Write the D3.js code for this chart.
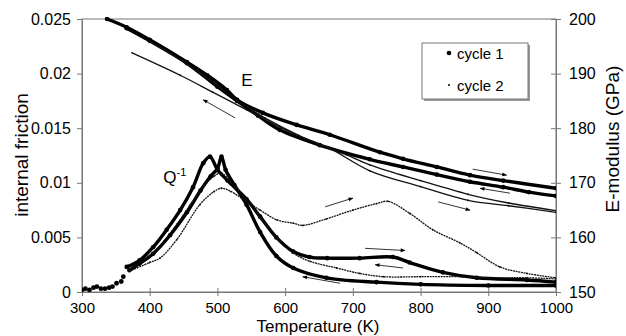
<!DOCTYPE html>
<html>
<head>
<meta charset="utf-8">
<script src="https://cdn.jsdelivr.net/npm/d3@7"></script>
<style>
  body { margin: 0; background: #fff; }
  svg { font-family: "Liberation Sans", Arial, sans-serif; }
</style>
</head>
<body>
<div class="main"></div>
<script>
let xTicks = [300, 400, 500, 600, 700, 800, 900, 1000];
let qTicks = [0, 0.005, 0.01, 0.015, 0.02, 0.025];
let eTicks = [150, 160, 170, 180, 190, 200];
let seriesNames = ['cycle 1', 'cycle 2'];

// [temperature K, internal friction]
let c1StartQ = [[300, 0.0002], [305, 0.0003], [311, 0.0002], [317, 0.0004], [322, 0.0005], [328, 0.0003],
  [334, 0.0003], [340, 0.0004], [345, 0.0005], [351, 0.0008], [358, 0.00096], [361, 0.0014]];
let c1HeatQ = [[366, 0.0023], [385, 0.0029], [405, 0.0041], [425, 0.0057], [445, 0.0075], [464, 0.0096],
  [479, 0.0118], [489, 0.0124], [500, 0.0112], [515, 0.0102], [543, 0.0085], [563, 0.0069],
  [587, 0.0050], [612, 0.0037], [636, 0.0032], [662, 0.0031], [710, 0.0031], [759, 0.0032],
  [784, 0.0027], [833, 0.0018], [883, 0.0013], [957, 0.0011], [1000, 0.0009]];
let c1CoolQ = [[1000, 0.0006], [900, 0.0006], [800, 0.0007], [735, 0.0009], [661, 0.0013], [612, 0.0022],
  [587, 0.0033], [563, 0.0055], [543, 0.0080], [525, 0.0098], [512, 0.0112], [506, 0.0124],
  [500, 0.0113], [490, 0.0106], [475, 0.0093], [455, 0.0073], [430, 0.0052], [405, 0.0035],
  [385, 0.0026], [370, 0.0020]];
let c2HeatQ = [[370, 0.0019], [400, 0.0027], [415, 0.0031], [440, 0.0048], [474, 0.0080], [495, 0.0092],
  [506, 0.0095], [520, 0.0092], [545, 0.0082], [563, 0.0075], [588, 0.0066], [612, 0.0063],
  [626, 0.0061], [661, 0.0067], [700, 0.0075], [735, 0.0081], [752, 0.0083], [784, 0.0072],
  [818, 0.0057], [858, 0.0045], [883, 0.0036], [917, 0.0023], [957, 0.0017], [1000, 0.0013]];
let c2CoolQ = [[1000, 0.0012], [957, 0.0013], [900, 0.0013], [860, 0.0014], [800, 0.0014], [745, 0.0014],
  [710, 0.0017], [676, 0.0022], [637, 0.0028], [611, 0.0036], [587, 0.0050], [563, 0.0068],
  [543, 0.0084], [520, 0.0100], [506, 0.0109], [495, 0.0106], [480, 0.0097], [460, 0.0080],
  [440, 0.0062], [415, 0.0042], [395, 0.0031], [370, 0.0021]];

// [temperature K, E-modulus GPa]
let c1HeatE = [[337, 200], [366, 198.5], [400, 196.2], [455, 192.1], [485, 189.7], [514, 187.0],
  [529, 185.2], [567, 182.8], [617, 180.6], [666, 178.8], [740, 175.6], [774, 174.4],
  [824, 172.9], [873, 171.4], [922, 170.4], [1000, 169.0]];
let c1CoolE = [[1000, 167.6], [960, 168.3], [922, 169.2], [873, 170.2], [824, 171.5], [774, 172.9],
  [725, 174.3], [651, 176.9], [592, 179.7], [560, 182.3], [529, 185.0], [500, 187.6],
  [455, 191.9], [400, 196.0], [366, 198.3]];
let c2HeatE = [[400, 195.9], [455, 191.8], [500, 187.8], [530, 185.0], [570, 181.9], [620, 178.7],
  [666, 176.3], [725, 172.2], [800, 169.3], [870, 166.8], [930, 165.8], [1000, 164.6]];
let c2CoolE = [[1000, 164.9], [930, 166.3], [870, 167.9], [800, 170.4], [725, 173.3], [691, 175.1],
  [641, 177.5], [592, 180.2], [544, 183.3], [493, 186.6], [445, 189.7], [374, 193.8]];

// direction arrows [T from, value from, T to, value to]
let eArrows = [[526, 181.9, 479, 185.2], [877, 172.5, 927, 171.4], [932, 168.1, 888, 169.0], [826, 166.5, 873, 165.0]];
let qArrows = [[659, 0.0078, 700, 0.0086], [718, 0.0040, 777, 0.0038], [774, 0.0022, 733, 0.0025], [681, 0.0008, 626, 0.0014]];

let opts = { width: 626, height: 336, left: 82, right: 556, top: 19, bottom: 292 };

let svg = d3.select('.main').append('svg')
  .attr('width', opts.width)
  .attr('height', opts.height);

let x = d3.scaleLinear().domain([300, 1000]).range([opts.left, opts.right]);
let yQ = d3.scaleLinear().domain([0, 0.025]).range([opts.bottom, opts.top]);
let yE = d3.scaleLinear().domain([150, 200]).range([opts.bottom, opts.top]);

let defs = svg.append('defs');
defs.append('clipPath').attr('id', 'plot')
  .append('rect').attr('x', opts.left).attr('y', opts.top - 2)
  .attr('width', opts.right - opts.left).attr('height', opts.bottom - opts.top + 2);

defs.append('marker')
  .attr('id', 'head').attr('viewBox', '0 0 10 10').attr('refX', 9).attr('refY', 5)
  .attr('markerWidth', 7).attr('markerHeight', 6).attr('orient', 'auto')
  .append('path').attr('d', 'M0,1 L10,5 L0,9 Z').attr('fill', '#000');

// frame
svg.append('rect').attr('x', opts.left).attr('y', opts.top)
  .attr('width', opts.right - opts.left).attr('height', opts.bottom - opts.top)
  .attr('fill', 'none').attr('stroke', '#777').attr('stroke-width', 1);

let styleAxis = g => {
  g.select('.domain').attr('stroke', '#777');
  g.selectAll('.tick line').attr('stroke', '#777');
  g.selectAll('.tick text').attr('fill', '#000').style('font-size', '16px')
    .style('font-family', '"Liberation Sans", Arial, sans-serif');
};

svg.append('g').attr('transform', `translate(0,${opts.bottom})`)
  .call(d3.axisBottom(x).tickValues(xTicks).tickSize(4).tickPadding(6).tickFormat(d3.format('d')))
  .call(styleAxis)
  .call(g => g.selectAll('.tick text').style('font-size', '15px'))
  .call(g => g.selectAll('.tick line').attr('y1', -4).attr('y2', 4));

svg.append('g').attr('transform', `translate(${opts.left},0)`)
  .call(d3.axisLeft(yQ).tickValues(qTicks).tickSize(5).tickPadding(6).tickFormat(d => d === 0 ? '0' : String(+d.toFixed(3))))
  .call(styleAxis);

svg.append('g').attr('transform', `translate(${opts.right},0)`)
  .call(d3.axisRight(yE).tickValues(eTicks).tickSize(5).tickPadding(8).tickFormat(d3.format('d')))
  .call(styleAxis)
  .call(g => g.selectAll('.tick line').attr('x1', -5).attr('x2', 5));

// axis titles
svg.append('text').attr('x', 318).attr('y', 331.5).attr('text-anchor', 'middle')
  .style('font-size', '17px').text('Temperature (K)');
svg.append('text').attr('transform', 'translate(28,155) rotate(-90)').attr('text-anchor', 'middle')
  .style('font-size', '19px').text('internal friction');
svg.append('text').attr('transform', 'translate(619,139) rotate(-90)').attr('text-anchor', 'middle')
  .style('font-size', '19px').text('E-modulus (GPa)');

let plot = svg.append('g').attr('clip-path', 'url(#plot)');

let lineQ = d3.line().x(d => x(d[0])).y(d => yQ(d[1])).curve(d3.curveCatmullRom.alpha(0.5));
let lineE = d3.line().x(d => x(d[0])).y(d => yE(d[1])).curve(d3.curveCatmullRom.alpha(0.5));

let drawSeries = (data, line, y, cycle, dotted) => {
  let thick = cycle === 1;
  plot.append('path').datum(data).attr('d', line)
    .attr('fill', 'none').attr('stroke', thick ? '#000' : '#111')
    .attr('stroke-width', thick ? 3.4 : 1.3)
    .attr('stroke-dasharray', dotted ? '2,0.7' : null);
  plot.selectAll(null).data(data).enter().append('circle')
    .attr('cx', d => x(d[0])).attr('cy', d => y(d[1]))
    .attr('r', thick ? 2.3 : 0.9).attr('fill', thick ? '#000' : '#111');
};

plot.selectAll(null).data(c1StartQ).enter().append('circle')
  .attr('cx', d => x(d[0])).attr('cy', d => yQ(d[1])).attr('r', 2.4).attr('fill', '#000');
drawSeries(c1HeatQ, lineQ, yQ, 1);
drawSeries(c1CoolQ, lineQ, yQ, 1);
drawSeries(c2HeatQ, lineQ, yQ, 2, true);
drawSeries(c2CoolQ, lineQ, yQ, 2, true);
drawSeries(c1HeatE, lineE, yE, 1);
drawSeries(c1CoolE, lineE, yE, 1);
drawSeries(c2HeatE, lineE, yE, 2);
drawSeries(c2CoolE, lineE, yE, 2);

let drawArrows = (list, y) => {
  svg.selectAll(null).data(list).enter().append('line')
    .attr('x1', d => x(d[0])).attr('y1', d => y(d[1]))
    .attr('x2', d => x(d[2])).attr('y2', d => y(d[3]))
    .attr('stroke', '#000').attr('stroke-width', 0.8)
    .attr('marker-end', 'url(#head)');
};
drawArrows(eArrows, yE);
drawArrows(qArrows, yQ);

// curve labels
svg.append('text').attr('x', x(535)).attr('y', yE(187.7)).style('font-size', '17px').text('E');
let qLabel = svg.append('text').attr('x', x(420)).attr('y', yQ(0.0100)).style('font-size', '17px');
qLabel.append('tspan').text('Q');
qLabel.append('tspan').attr('dy', -7).style('font-size', '11px').text('-1');

// legend
let legend = svg.append('g').attr('transform', 'translate(422,43)');
legend.append('rect').attr('x', 2).attr('y', 2).attr('width', 106).attr('height', 56).attr('fill', '#999');
legend.append('rect').attr('width', 106).attr('height', 56).attr('fill', '#fff').attr('stroke', '#777');
let items = legend.selectAll('g.item').data(seriesNames).enter().append('g')
  .attr('transform', (d, i) => `translate(0,${10 + i * 32})`);
items.append('circle').attr('cx', 27).attr('cy', 0).attr('r', (d, i) => i === 0 ? 2.3 : 1)
  .attr('fill', '#000');
items.append('text').attr('x', 35).attr('y', 5.5).style('font-size', '15px').text(d => d);
</script>
</body>
</html>
